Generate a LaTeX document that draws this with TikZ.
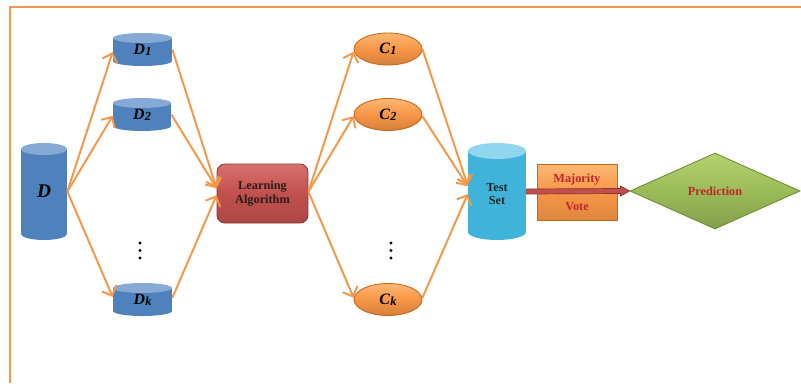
\documentclass[tikz,border=0pt]{standalone}
\usepackage{fontspec}
\setmainfont{Liberation Serif}
\usetikzlibrary{shapes.geometric,arrows.meta,calc}
\definecolor{frameor}{HTML}{F79646}
\definecolor{blbody}{HTML}{4F81BD}
\definecolor{bltop}{HTML}{86A9D6}
\definecolor{cybody}{HTML}{3FB3DA}
\definecolor{cytop}{HTML}{8FD6EE}
\definecolor{orfill}{HTML}{F79646}
\definecolor{oredge}{HTML}{C8661A}
\definecolor{orlight}{HTML}{FBB874}
\definecolor{rdfill}{HTML}{C0504D}
\definecolor{rdlight}{HTML}{D9716E}
\definecolor{rdedge}{HTML}{8C3432}
\definecolor{grfill}{HTML}{9BBB59}
\definecolor{grlight}{HTML}{B5D26F}
\definecolor{gredge}{HTML}{6E8C33}
\definecolor{txred}{HTML}{C0262D}
\definecolor{txdark}{HTML}{2B1B1B}
\newcommand\mycyl[9]{%
  \fill[#7] ({#2-#4/2},{#3-#5/2+#6}) rectangle ({#2+#4/2},{#3+#5/2-#6});
  \fill[#7] (#2,{#3+#5/2-#6}) ellipse [x radius={#4/2}, y radius=#6];
  \fill[#8] (#2,{#3-#5/2+#6}) ellipse [x radius={#4/2}, y radius=#6];
  \node[inner sep=0pt, minimum width={#4*0.2mm}, minimum height={#5*0.2mm}] (#1) at (#2,#3) {#9};
}
\newcommand\dlab[2]{{\fontsize{9}{9}\selectfont\bfseries\itshape #1\kern0.2pt\raisebox{-0.4pt}{\fontsize{7}{7}\selectfont #2}}}
\begin{document}
\begin{tikzpicture}[x=0.02cm,y=-0.02cm,
  conn/.style={frameor, line width=1.1pt, -{Straight Barb[length=4.5pt,width=9pt]}},
  txt/.style={font=\fontsize{7}{7.6}\selectfont\bfseries, align=center},
  lab/.style={inner sep=0pt}]
\useasboundingbox (0,0) rectangle (801,383);
\draw[frameor, line width=0.045cm] (10,383) -- (10,7) -- (801,7);

% data sets
\mycyl{D}{44}{191.5}{46}{97}{6}{blbody}{bltop}{{\fontsize{11}{11}\selectfont\bfseries\itshape D}}
\mycyl{D1}{142.5}{49.5}{59}{33}{5}{blbody}{bltop}{\dlab{D}{1}}
\mycyl{D2}{142}{114.5}{58}{33}{5}{blbody}{bltop}{\dlab{D}{2}}
\mycyl{Dk}{142.5}{299.5}{59}{33}{5}{blbody}{bltop}{\dlab{D}{k}}

% learning algorithm
\node[txt, rounded corners=4.5pt, draw=rdedge, line width=0.5pt, top color=rdlight, bottom color=rdfill!90!black, middle color=rdfill,
  minimum width=91*0.2mm, minimum height=59*0.2mm, text=txdark] (LA) at (262.5,193.5) {Learning\\Algorithm};

% classifiers
\foreach \n/\y/\s in {C1/49/1, C2/114.5/2, Ck/299.5/k}{
  \node[ellipse, draw=oredge, line width=0.5pt, top color=orlight, bottom color=orfill!85!black, middle color=orfill,
    minimum width=68*0.2mm, minimum height=32*0.2mm, inner sep=0pt] (\n) at (388,\y) {\dlab{C}{\s}};
}

% test set
\mycyl{T}{497}{191.5}{58}{97}{8}{cybody}{cytop}{}
\node[txt, text=black!85] (Tl) at (497,194) {Test\\Set};

% majority vote
\node[font=\fontsize{7}{9.5}\selectfont\bfseries, align=center, text=txred, draw=oredge, line width=0.5pt,
  top color=orlight, bottom color=orfill!90!black, middle color=orfill,
  minimum width=80*0.2mm, minimum height=56*0.2mm, inner sep=0pt] (MV) at (577,192) {Majority\\[6.5pt]Vote};

% prediction
\node[diamond, draw=gredge, line width=0.5pt, top color=grlight, bottom color=grfill!85!black, middle color=grfill,
  minimum width=170*0.2mm, minimum height=76*0.2mm, inner sep=0pt, aspect=2.24,
  font=\fontsize{7}{7}\selectfont\bfseries, text=txred] (P) at (715,191) {Prediction};

% dots
\foreach \x in {140,391}{
  \foreach \y in {243,250.5,258}{ \fill (\x,\y) circle (1.6); }
}

% connectors
\draw[conn] (D.east) -- ([yshift=-1.5pt]D1.west);
\draw[conn] (D.east) -- ([yshift=-0.8pt]D2.west);
\draw[conn] (D.east) -- ([yshift=1.5pt]Dk.west);
\draw[conn] (D1.east) -- ([yshift=3pt]LA.west);
\draw[conn] (D2.east) -- ([yshift=3pt]LA.west);
\draw[conn] ([yshift=1pt]Dk.east) -- ([yshift=-1pt]LA.west);
\draw[conn] ([yshift=1pt]LA.east) -- ([yshift=-1.5pt]C1.west);
\draw[conn] ([yshift=1pt]LA.east) -- ([yshift=-1pt]C2.west);
\draw[conn] ([yshift=1pt]LA.east) -- ([yshift=1pt]Ck.west);
\draw[conn] (C1.east) -- ([yshift=3.5pt]T.west);
\draw[conn] ([yshift=-1pt]C2.east) -- ([yshift=3pt]T.west);
\draw[conn] ([yshift=1pt]Ck.east) -- ([yshift=-1.5pt]T.west);

% red arrow
\coordinate (rs) at (T.east);
\coordinate (re) at (P.west);
\filldraw[fill=rdfill, draw=rdedge, line width=0.4pt]
  ($(rs)+(0,-2.5)$) -- ($(re)+(-9,-2.5)$) -- ($(re)+(-9,-5)$) -- (re) -- ($(re)+(-9,5)$) -- ($(re)+(-9,2.5)$) -- ($(rs)+(0,2.5)$) -- cycle;
\end{tikzpicture}
\end{document}
